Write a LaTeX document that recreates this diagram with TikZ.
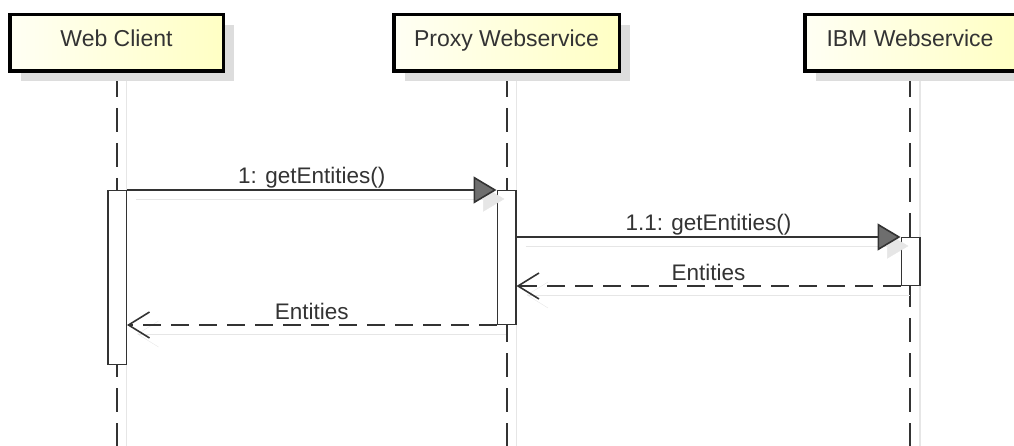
\documentclass[tikz,border=0pt]{standalone}
\usepackage{fontspec}
\setmainfont{Liberation Sans}
\usetikzlibrary{arrows.meta,positioning,shadows,backgrounds}
\definecolor{ink}{RGB}{51,51,51}
\definecolor{cream}{RGB}{255,255,244}
\definecolor{butter}{RGB}{255,255,196}
\definecolor{shade}{RGB}{221,221,221}
\definecolor{ghost}{RGB}{230,230,230}
\definecolor{steel}{RGB}{110,110,110}

\begin{document}
\begin{tikzpicture}[x=1pt,y=-1pt,
    actor/.style={draw=black,line width=3.5pt,left color=cream,right color=butter,
      minimum height=56.5pt,inner sep=0pt,text height=16pt,text depth=8pt,text=ink,
      font=\fontsize{23}{27}\selectfont,
      drop shadow={shadow xshift=11pt,shadow yshift=-10pt,fill=shade,opacity=1}},
    lifeline/.style={draw=ink,line width=2pt,dash pattern=on 24pt off 11pt},
    lifeshadow/.style={draw=ghost,line width=1.5pt},
    bar/.style={draw=ink,fill=white,line width=1.5pt,minimum width=18.5pt,inner sep=0pt},
    call/.style={draw=ink,line width=1.6pt,-{Triangle[length=23pt,width=27pt,fill=steel]},
      preaction={draw=ghost,solid,transform canvas={shift={(9pt,-9pt)}},
        -{Triangle[length=23pt,width=27pt,fill=ghost]}}},
    reply/.style={draw=ink,line width=1.6pt,dash pattern=on 18pt off 10pt,
      -{Straight Barb[length=21pt,width=26pt]},
      preaction={draw=ghost,solid,transform canvas={shift={(9pt,-9pt)}},
        -{Straight Barb[length=21pt,width=26pt]}}},
    msglabel/.style={anchor=base,yshift=6pt,text=ink,font=\fontsize{22.5}{27}\selectfont}]
  \useasboundingbox (0,0) rectangle (1014,446);
  \clip (0,0) rectangle (1014,446);

  % participants
  \node[actor,minimum width=213.5pt] (wc) at (116.5,43) {Web Client};
  \node[actor,minimum width=225.5pt] (proxy) at (506.5,43) {Proxy Webservice};
  \node[actor,minimum width=210.5pt] (ibm) at (910,43) {IBM Webservice};

  \begin{scope}[on background layer]
    \foreach \n in {wc,proxy,ibm}{
      \draw[lifeshadow] (\n.south) ++(10,0) -- +(0,380);
      \draw[lifeline] (\n.south) -- +(0,380);
    }
  \end{scope}

  % activations
  \node[bar,minimum height=173.5pt] (wcbar) at (117,277.5) {};
  \node[bar,minimum height=133.5pt] (proxybar) at (506.5,257.5) {};
  \node[bar,minimum height=47.5pt] (ibmbar) at (910.5,261.5) {};

  % messages
  \draw[call] (wcbar.north east) -- node[msglabel] {1: getEntities()} (proxybar.north west);
  \draw[call] (proxybar.east |- ibmbar.north) -- node[msglabel] {1.1: getEntities()} (ibmbar.north west);
  \draw[reply] (ibmbar.south west) -- node[msglabel] {Entities} (proxybar.east |- ibmbar.south);
  \draw[reply] (proxybar.south west) -- node[msglabel] {Entities} (wcbar.east |- proxybar.south);
\end{tikzpicture}
\end{document}
